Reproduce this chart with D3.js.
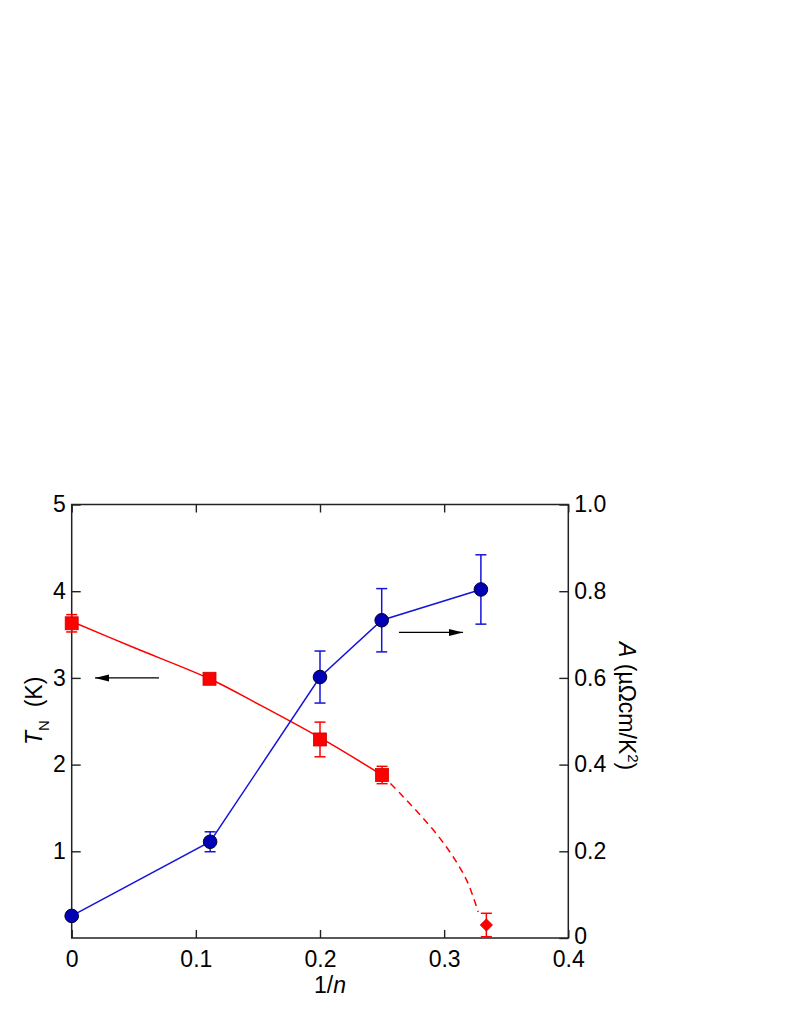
<!DOCTYPE html>
<html>
<head>
<meta charset="utf-8">
<script src="https://cdn.jsdelivr.net/npm/d3@7"></script>
<style>
  html, body { margin: 0; padding: 0; background: #fff; }
  svg { display: block; font-family: "Liberation Sans", Arial, sans-serif; }
</style>
</head>
<body>
<svg id="chart" width="789" height="1021"></svg>
<script>
// ---------------- data ----------------
const xTickValues = [0, 0.1, 0.2, 0.3, 0.4];
const xTickLabels = ["0", "0.1", "0.2", "0.3", "0.4"];
const leftTickValues = [1, 2, 3, 4, 5];
const rightTickValues = [0, 0.2, 0.4, 0.6, 0.8, 1.0];
const rightTickLabels = ["0", "0.2", "0.4", "0.6", "0.8", "1.0"];

// T_N (left axis), red squares
const tnX = [0, 0.111, 0.2, 0.25];
const tnY = [3.63, 2.99, 2.29, 1.88];
const tnErr = [0.1, 0.05, 0.2, 0.1];
// T_N at 1/n = 1/3, red diamond
const tnDiaX = [0.334];
const tnDiaY = [0.15];
const tnDiaErr = [0.135];

// Guide curve through T_N (solid and dashed parts)
const fitSolidX = [0, 0.05, 0.111, 0.15, 0.2, 0.25];
const fitSolidY = [3.65, 3.35, 2.99, 2.70, 2.31, 1.88];
const fitDashX = [0.25, 0.265, 0.28, 0.295, 0.308, 0.318, 0.324, 0.3274];
const fitDashY = [1.88, 1.66, 1.43, 1.18, 0.92, 0.67, 0.45, 0.30];

// A coefficient (right axis), blue circles
const aX = [0, 0.1115, 0.2, 0.2497, 0.3296];
const aY = [0.051, 0.222, 0.602, 0.733, 0.804];
const aErr = [0, 0.023, 0.06, 0.073, 0.08];

// annotation arrows (data coordinates)
const arrowLeft = { x1: 0.0703, x2: 0.0188, y: 3.0 };    // on left axis scale
const arrowRight = { x1: 0.2636, x2: 0.3152, y: 0.705 }; // on right axis scale

// ---------------- layout ----------------
const svg = d3.select("#chart");
const L = 71.7, R = 568.3, T = 504.5, B = 938;

const x = d3.scaleLinear().domain([0, 0.4]).range([L, R]);
const yL = d3.scaleLinear().domain([0, 5]).range([B, T]);
const yR = d3.scaleLinear().domain([0, 1]).range([B, T]);

const axisColor = "#222";
const fontSize = 23;

// defs: arrow marker
const defs = svg.append("defs");
defs.append("marker")
  .attr("id", "arrowhead")
  .attr("viewBox", "0 0 14 8")
  .attr("refX", 14).attr("refY", 4)
  .attr("markerWidth", 14).attr("markerHeight", 8)
  .attr("markerUnits", "userSpaceOnUse")
  .attr("orient", "auto")
  .append("path").attr("d", "M0,0.5 L14,4 L0,7.5 Z").attr("fill", "#000");

// ---------------- axes ----------------
function styleAxis(g) {
  g.select(".domain").remove();
  g.selectAll(".tick line").attr("stroke", axisColor).attr("stroke-width", 1.4);
  g.selectAll(".tick text").attr("fill", "#000").attr("font-size", fontSize)
    .attr("font-family", "'Liberation Sans', Arial, sans-serif");
}

svg.append("g").attr("transform", `translate(0,${B})`)
  .call(d3.axisBottom(x).tickValues(xTickValues)
    .tickFormat((d, i) => xTickLabels[i]).tickSizeInner(-8).tickSizeOuter(0).tickPadding(13))
  .call(styleAxis);

svg.append("g").attr("transform", `translate(0,${T})`)
  .call(d3.axisTop(x).tickValues(xTickValues).tickFormat("").tickSizeInner(-8).tickSizeOuter(0))
  .call(styleAxis);

svg.append("g").attr("transform", `translate(${L},0)`)
  .call(d3.axisLeft(yL).tickValues(leftTickValues).tickFormat(d3.format("d"))
    .tickSizeInner(-9).tickSizeOuter(0).tickPadding(6))
  .call(styleAxis);

const gR = svg.append("g").attr("transform", `translate(${R},0)`)
  .call(d3.axisRight(yR).tickValues(rightTickValues)
    .tickFormat((d, i) => rightTickLabels[i]).tickSizeInner(-9).tickSizeOuter(0).tickPadding(6))
  .call(styleAxis);
// nudge the bottom "0" label slightly up, as in the reference
gR.selectAll(".tick text").filter(d => d === 0).attr("y", -2);

// frame
svg.append("rect")
  .attr("x", L).attr("y", T).attr("width", R - L).attr("height", B - T)
  .attr("fill", "none").attr("stroke", axisColor).attr("stroke-width", 1.5);

// ---------------- axis titles ----------------
svg.append("text")
  .attr("x", 330).attr("y", 993)
  .attr("text-anchor", "middle").attr("font-size", fontSize)
  .call(t => {
    t.append("tspan").text("1/");
    t.append("tspan").attr("font-style", "italic").text("n");
  });

svg.append("text")
  .attr("transform", "translate(42,745) rotate(-90)")
  .attr("text-anchor", "start").attr("font-size", fontSize)
  .call(t => {
    t.append("tspan").attr("font-style", "italic").text("T");
    t.append("tspan").attr("font-size", 15).attr("dy", 7).text("N");
    t.append("tspan").attr("dy", -7).text("\u00a0\u00a0(K)");
  });

svg.append("text")
  .attr("transform", "translate(619,642) rotate(90)")
  .attr("text-anchor", "start").attr("font-size", fontSize)
  .call(t => {
    t.append("tspan").attr("font-style", "italic").text("A");
    t.append("tspan").text("\u00a0(\u00b5\u03a9cm/K");
    t.append("tspan").attr("font-size", 15).attr("dy", -9).text("2");
    t.append("tspan").attr("dy", 9).text(")");
  });

// ---------------- marks ----------------
const red = "#ff0000";
const blue = "#1515d8";

// red guide curve
const fitLine = d3.line().x(d => x(d[0])).y(d => yL(d[1])).curve(d3.curveCatmullRom.alpha(0.5));
svg.append("path")
  .attr("d", fitLine(fitSolidX.map((v, i) => [v, fitSolidY[i]])))
  .attr("fill", "none").attr("stroke", red).attr("stroke-width", 1.5);
svg.append("path")
  .attr("d", fitLine(fitDashX.map((v, i) => [v, fitDashY[i]])))
  .attr("fill", "none").attr("stroke", red).attr("stroke-width", 1.5)
  .attr("stroke-dasharray", "7,5");

// blue connecting line
const aData = aX.map((v, i) => ({ x: v, y: aY[i], e: aErr[i] }));
svg.append("path")
  .attr("d", d3.line().x(d => x(d.x)).y(d => yR(d.y))(aData))
  .attr("fill", "none").attr("stroke", blue).attr("stroke-width", 1.5);

// error bars helper
function errorBars(data, yScale, color) {
  const g = svg.append("g").attr("stroke", color).attr("stroke-width", 1.5).attr("fill", "none");
  data.filter(d => d.e > 0).forEach(d => {
    const cx = x(d.x), y1 = yScale(d.y + d.e), y2 = yScale(d.y - d.e);
    g.append("line").attr("x1", cx).attr("x2", cx).attr("y1", y1).attr("y2", y2);
    g.append("line").attr("x1", cx - 5.5).attr("x2", cx + 5.5).attr("y1", y1).attr("y2", y1);
    g.append("line").attr("x1", cx - 5.5).attr("x2", cx + 5.5).attr("y1", y2).attr("y2", y2);
  });
}

const tnData = tnX.map((v, i) => ({ x: v, y: tnY[i], e: tnErr[i] }));
const tnDia = tnDiaX.map((v, i) => ({ x: v, y: tnDiaY[i], e: tnDiaErr[i] }));

errorBars(tnData, yL, red);
errorBars(tnDia, yL, red);
errorBars(aData, yR, blue);

// red squares
svg.append("g").selectAll("rect").data(tnData).join("rect")
  .attr("x", d => x(d.x) - 6.5).attr("y", d => yL(d.y) - 6.5)
  .attr("width", 13).attr("height", 13)
  .attr("fill", red).attr("stroke", "#d00000").attr("stroke-width", 0.8);

// red diamond
svg.append("g").selectAll("path").data(tnDia).join("path")
  .attr("d", d3.symbol(d3.symbolDiamond2, 100)())
  .attr("transform", d => `translate(${x(d.x)},${yL(d.y)})`)
  .attr("fill", red).attr("stroke", "#d00000").attr("stroke-width", 0.6);

// blue circles
svg.append("g").selectAll("circle").data(aData).join("circle")
  .attr("cx", d => x(d.x)).attr("cy", d => yR(d.y)).attr("r", 6.8)
  .attr("fill", "#0000b4").attr("stroke", "#000033").attr("stroke-width", 1);

// arrows
svg.append("line")
  .attr("x1", x(arrowLeft.x1)).attr("x2", x(arrowLeft.x2))
  .attr("y1", yL(arrowLeft.y)).attr("y2", yL(arrowLeft.y))
  .attr("stroke", "#000").attr("stroke-width", 1.3).attr("marker-end", "url(#arrowhead)");
svg.append("line")
  .attr("x1", x(arrowRight.x1)).attr("x2", x(arrowRight.x2))
  .attr("y1", yR(arrowRight.y)).attr("y2", yR(arrowRight.y))
  .attr("stroke", "#000").attr("stroke-width", 1.3).attr("marker-end", "url(#arrowhead)");
</script>
</body>
</html>
